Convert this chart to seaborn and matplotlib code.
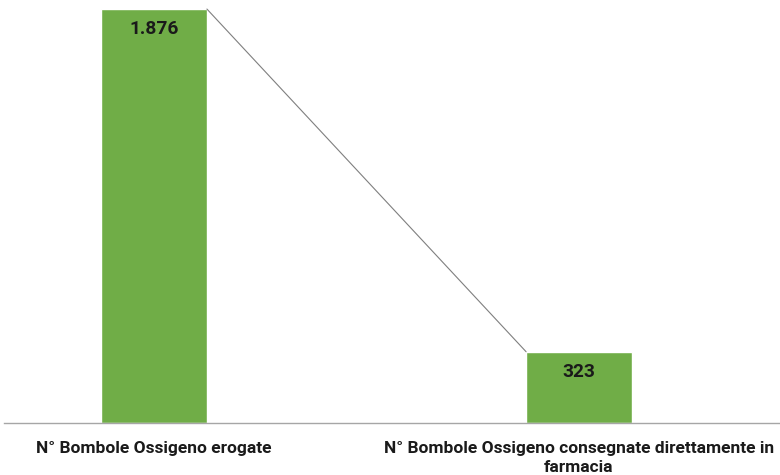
import matplotlib
matplotlib.use("Agg")
import matplotlib.pyplot as plt
import seaborn as sns
import pandas as pd

categories = ["N° Bombole Ossigeno erogate",
              "N° Bombole Ossigeno consegnate direttamente in\nfarmacia"]
values = [1876, 323]
value_labels = ["1.876", "323"]

sns.set_theme(style="white")
plt.rcParams['font.family'] = ['Roboto', 'DejaVu Sans']

df = pd.DataFrame({"cat": categories, "val": values})

fig = plt.figure(figsize=(7.8, 4.75), dpi=100)
ax = fig.add_axes([4/780, 52/475, 776/780, 423/475])

sns.barplot(data=df, x="cat", y="val", color="#70AD47", saturation=1,
            width=0.249, ax=ax)

ax.set_xlim(-150/425, 1 + 201/425)
ax.set_ylim(0, 1917)

# connector line between bar tops
patches = ax.patches
p0, p1 = patches[0], patches[1]
ax.plot([p0.get_x() + p0.get_width(), p1.get_x()],
        [p0.get_height(), p1.get_height()],
        color="#7f7f7f", lw=0.8, zorder=1)

for p, lab in zip(patches, value_labels):
    ax.annotate(lab, (p.get_x() + p.get_width() / 2, p.get_height()),
                xytext=(0, -14.5), textcoords="offset points",
                ha="center", va="center", fontsize=13.8, fontweight="bold",
                color="#1a1a1a")

for s in ["top", "right", "left"]:
    ax.spines[s].set_visible(False)
ax.spines["bottom"].set_color("#a6a6a6")
ax.spines["bottom"].set_linewidth(1.0)
ax.set_yticks([])
ax.set_xlabel("")
ax.set_ylabel("")
ax.tick_params(axis="x", length=0, pad=13)
for t in ax.get_xticklabels():
    t.set_fontsize(12.5)
    t.set_fontweight("bold")
    t.set_color("#1a1a1a")
    t.set_linespacing(1.3)

fig.savefig("out.png", dpi=100)
